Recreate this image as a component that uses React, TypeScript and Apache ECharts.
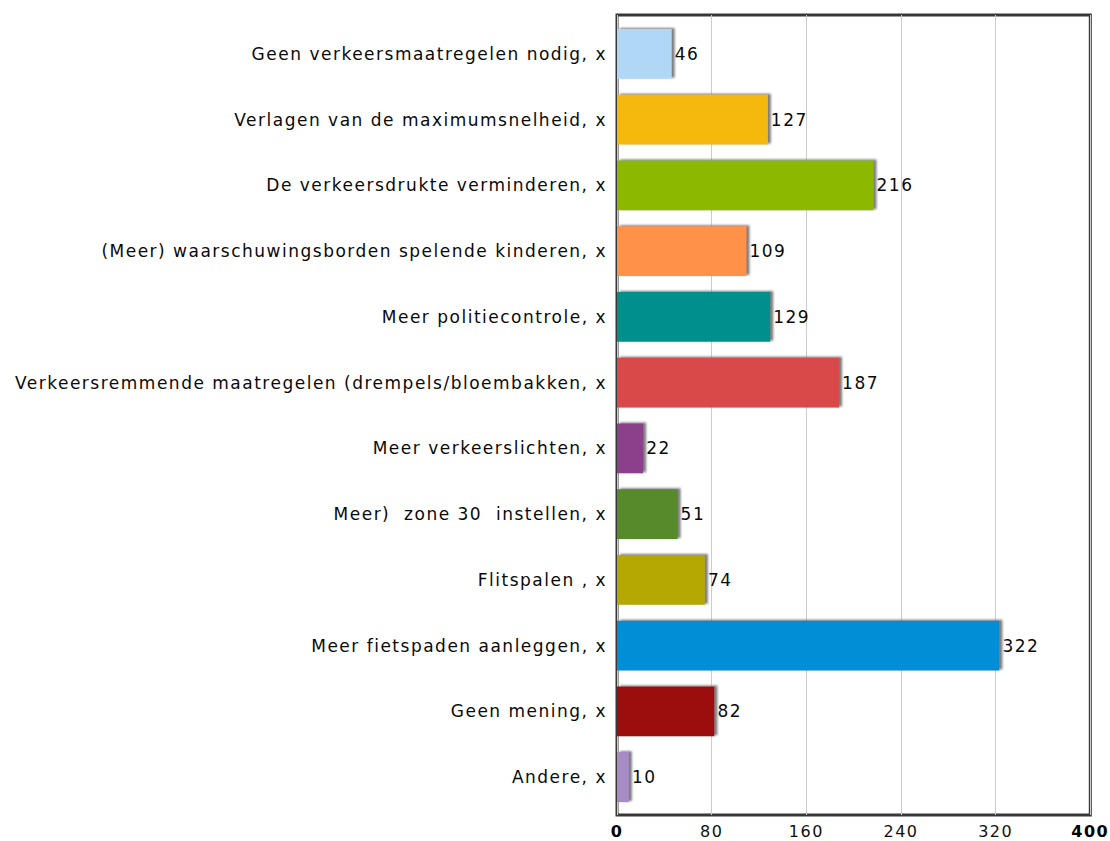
import React, { useEffect, useRef } from "react";
import * as echarts from "echarts";

const categories = [
  "Geen verkeersmaatregelen nodig, x",
  "Verlagen van de maximumsnelheid, x",
  "De verkeersdrukte verminderen, x",
  "(Meer) waarschuwingsborden spelende kinderen, x",
  "Meer politiecontrole, x",
  "Verkeersremmende maatregelen (drempels/bloembakken, x",
  "Meer verkeerslichten, x",
  "Meer)  zone 30  instellen, x",
  "Flitspalen , x",
  "Meer fietspaden aanleggen, x",
  "Geen mening, x",
  "Andere, x",
];
const values = [46, 127, 216, 109, 129, 187, 22, 51, 74, 322, 82, 10];
const colors = [
  "#b0d8f6",
  "#f5b910",
  "#8cb900",
  "#ff9148",
  "#008f8a",
  "#d94849",
  "#8b3f8c",
  "#578a2a",
  "#b5a800",
  "#008fd6",
  "#9c0a0f",
  "#a78bc5",
];
const xTicks = [0, 80, 160, 240, 320, 400];

export default function App() {
  const ref = useRef<HTMLDivElement>(null);
  useEffect(() => {
    if (!ref.current) return;
    const chart = echarts.init(ref.current, null, { renderer: "svg" });
    const font = "DejaVu Sans";
    const xMin = xTicks[0];
    const xMax = xTicks[xTicks.length - 1];
    chart.setOption({
      animation: false,
      backgroundColor: "#ffffff",
      grid: [
        {
          left: 617,
          right: 18,
          top: 21,
          bottom: 31,
          show: false,
          containLabel: false,
        },
        {
          left: 617,
          right: 18,
          top: 15,
          bottom: 26,
          show: true,
          borderColor: "#383838",
          borderWidth: 3,
          containLabel: false,
        },
      ],
      xAxis: [
        {
          gridIndex: 0,
          type: "value",
          min: xMin,
          max: xMax,
          interval: 80,
          show: false,
        },
        {
          gridIndex: 1,
          type: "value",
          min: xMin,
          max: xMax,
          interval: 80,
          axisLine: { show: false },
          axisTick: { show: false },
          splitLine: { show: true, lineStyle: { color: "#cccccc", width: 1 } },
          axisLabel: {
            margin: 8,
            fontFamily: font,
            fontSize: 16,
            color: "#111",
            formatter: (v: number) =>
              v === xMin || v === xMax ? `{b|${v}}` : `${v}`,
            rich: {
              b: { fontFamily: font, fontSize: 16, fontWeight: "bold", color: "#000" },
            },
          },
        },
      ],
      yAxis: [
        {
          gridIndex: 0,
          type: "category",
          data: categories,
          inverse: true,
          axisLine: { show: false },
          axisTick: { show: false },
          splitLine: { show: false },
          axisLabel: {
            margin: 10,
            fontFamily: font,
            fontSize: 17,
            color: "#0a0a0a",
          },
        },
        {
          gridIndex: 1,
          type: "category",
          data: [],
          show: false,
        },
      ],
      series: [
        {
          type: "bar",
          xAxisIndex: 0,
          yAxisIndex: 0,
          data: values.map((v, i) => ({ value: v, itemStyle: { color: colors[i] } })),
          barCategoryGap: "24%",
          itemStyle: {
            shadowColor: "rgba(110,110,110,0.9)",
            shadowBlur: 2,
            shadowOffsetX: 3,
            shadowOffsetY: -1,
          },
          label: {
            show: true,
            position: "right",
            distance: 3,
            fontFamily: font,
            fontSize: 17,
            color: "#0a0a0a",
          },
        },
      ],
    });
    return () => chart.dispose();
  }, []);
  return (
    <>
      <style>{`#chart-root svg text { letter-spacing: 1.5px; }`}</style>
      <div
        id="chart-root"
        ref={ref}
        style={{ position: "fixed", left: 0, top: 0, width: 1110, height: 841 }}
      />
    </>
  );
}
